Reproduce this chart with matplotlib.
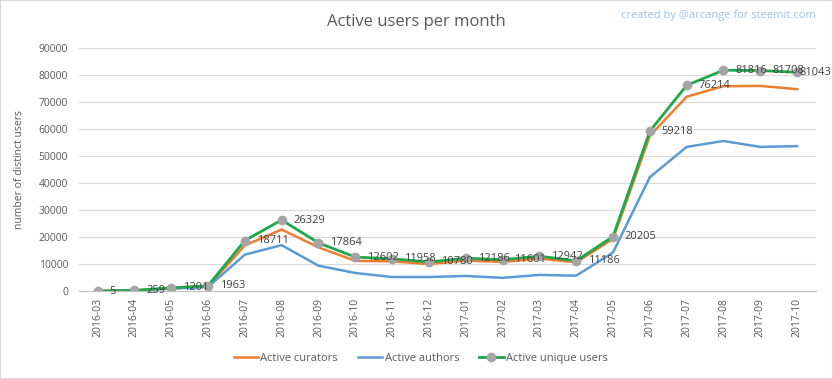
import matplotlib.pyplot as plt
from matplotlib.patches import Rectangle

months = ['2016-03', '2016-04', '2016-05', '2016-06', '2016-07', '2016-08', '2016-09',
          '2016-10', '2016-11', '2016-12', '2017-01', '2017-02', '2017-03', '2017-04',
          '2017-05', '2017-06', '2017-07', '2017-08', '2017-09', '2017-10']

# valeurs
curators = [0, 200, 1000, 1700, 16900, 22800, 16200, 11200, 11000, 10000, 11300, 10800,
            12000, 10700, 19300, 57500, 72000, 75900, 76000, 74800]
authors = [0, 150, 900, 1500, 13500, 17000, 9400, 6700, 5200, 5200, 5600, 4900,
           6000, 5700, 14300, 42200, 53400, 55600, 53400, 53700]
unique_users = [5, 259, 1201, 1963, 18711, 26329, 17864, 12602, 11958, 10780, 12186, 11601,
                12942, 11186, 20205, 59218, 76214, 81816, 81708, 81043]

plt.rcParams['font.family'] = ['Open Sans', 'DejaVu Sans']
txt = '#595959'

fig = plt.figure(figsize=(8.33, 3.79), dpi=100)
ax = fig.add_axes([0.095, 0.232, 0.884, 0.641])

x = range(len(months))
ax.plot(x, curators, color='#ED7D31', lw=1.8, label='Active curators')
ax.plot(x, authors, color='#5B9BD5', lw=1.8, label='Active authors')
ax.plot(x, unique_users, color='#1FA84A', lw=2.0, marker='o', markersize=6,
        markerfacecolor='#A5A5A5', markeredgecolor='#A5A5A5', label='Active unique users')

# étiquettes à droite des points (la dernière est repoussée à gauche comme dans Excel)
for i, v in enumerate(unique_users):
    dx = 8.5 if i < len(unique_users) - 1 else 1.5
    ax.annotate(str(v), (i, v), xytext=(dx, 0), textcoords='offset points',
                va='center', ha='left', fontsize=8, color='#404040')

ax.set_xlim(-0.5, len(months) - 0.5)
ax.set_ylim(0, 90000)
ax.set_yticks(range(0, 90001, 10000))
ax.set_xticks(list(x))
ax.set_xticklabels(months, rotation=90, fontsize=7.5, color=txt)
ax.tick_params(axis='y', labelsize=7.5, labelcolor=txt, length=0, pad=8)
ax.tick_params(axis='x', length=0, pad=5)
ax.grid(axis='y', color='#D9D9D9', lw=0.8)
ax.set_axisbelow(True)
for s in ['top', 'right', 'left']:
    ax.spines[s].set_visible(False)
ax.spines['bottom'].set_color('#BFBFBF')

ax.set_ylabel('number of distinct users', fontsize=7.5, color=txt, labelpad=10)
fig.text(0.5, 0.942, 'Active users per month', ha='center', va='center',
         fontsize=12, color=txt)
fig.text(0.979, 0.96, 'created by @arcange for steemit.com', ha='right', va='center',
         fontsize=8, color='#9DC3E6')

fig.legend(loc='center', bbox_to_anchor=(0.505, 0.055), ncol=3, frameon=False,
           fontsize=8, labelcolor=txt, handlelength=2.2, handletextpad=0.2,
           columnspacing=1.8)

fig.patches.append(Rectangle((0, 0), 1, 1, transform=fig.transFigure, fill=False,
                             edgecolor='#D9D9D9', lw=1.5))

fig.savefig('out.png', dpi=100)
